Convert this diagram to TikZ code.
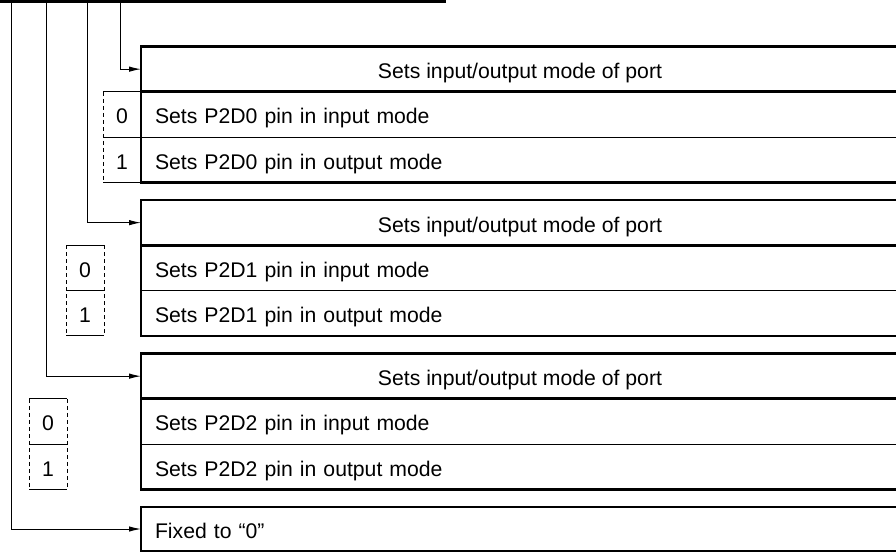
\documentclass[tikz,border=0pt]{standalone}
\usepackage{fontspec}
\setmainfont{Liberation Sans}
\usetikzlibrary{arrows.meta}

\tikzset{
  txt/.style={font=\fontsize{21.2}{25}\selectfont, text height=19pt, text depth=0pt},
  hdrbox/.style={txt, draw, line width=2.7pt, anchor=north west, inner sep=0pt,
    outer sep=0pt, minimum width=758pt, minimum height=45.3pt},
  rowbox/.style={txt, anchor=north west, inner sep=0pt, outer sep=0pt,
    minimum width=758pt, minimum height=45.3pt, text width=730pt, align=left},
  valbox/.style={txt, anchor=east, inner sep=0pt, outer sep=0pt,
    minimum width=38pt, minimum height=45.3pt},
  boxline/.style={line width=2.7pt},
  divline/.style={line width=1.1pt},
  sides/.style={line width=1pt, dash pattern=on 4pt off 3pt},
  wire/.style={line width=1pt, -{Latex[length=12pt,width=5.5pt]}},
}

\begin{document}
\begin{tikzpicture}[x=1pt, y=-1pt]
  \useasboundingbox (0,0) rectangle (896,552);

  % register row (cut off at the top)
  \draw[boxline] (-5,1.2) -- (445,1.2) -- (445,-30);
  \draw[divline] (28,0) -- (28,-30) (66,0) -- (66,-30) (103,0) -- (103,-30)
    (142,0) -- (142,-30) (292,0) -- (292,-30);
  \coordinate (b0) at (11,1);
  \coordinate (b1) at (46,1);
  \coordinate (b2) at (87,1);
  \coordinate (b3) at (120,1);

  % bit 3: P2D0
  \node[hdrbox] (h1) at (141,46.5) {Sets input/output mode of port};
  \node[rowbox] (r10) at (h1.south west) {Sets P2D0 pin in input mode};
  \node[rowbox] (r11) at (r10.south west) {Sets P2D0 pin in output mode};
  \node[valbox] (v10) at (r10.west) {0};
  \node[valbox] (v11) at (r11.west) {1};
  \draw[sides] (v10.north west) -- (v11.south west);
  \draw[divline] (v10.north west) -- (v10.north east) (v10.south west) -- (r10.south east)
    (v11.south west) -- (v11.south east);
  \draw[boxline] (r10.north west) -- (r11.south west) -- (r11.south east);

  % bit 2: P2D1
  \node[hdrbox] (h2) at (141,200) {Sets input/output mode of port};
  \node[rowbox] (r20) at (h2.south west) {Sets P2D1 pin in input mode};
  \node[rowbox] (r21) at (r20.south west) {Sets P2D1 pin in output mode};
  \node[valbox, xshift=-37pt] (v20) at (r20.west) {0};
  \node[valbox, xshift=-37pt] (v21) at (r21.west) {1};
  \draw[sides] (v20.north west) -- (v21.south west) (v20.north east) -- (v21.south east);
  \draw[divline] (v20.north west) -- (v20.north east) (v20.south west) -- (v20.south east)
    (v21.south west) -- (v21.south east) (r20.south west) -- (r20.south east);
  \draw[boxline] (r20.north west) -- (r21.south west) -- (r21.south east);

  % bit 1: P2D2
  \node[hdrbox] (h3) at (141,353.5) {Sets input/output mode of port};
  \node[rowbox] (r30) at (h3.south west) {Sets P2D2 pin in input mode};
  \node[rowbox] (r31) at (r30.south west) {Sets P2D2 pin in output mode};
  \node[valbox, xshift=-74pt] (v30) at (r30.west) {0};
  \node[valbox, xshift=-74pt] (v31) at (r31.west) {1};
  \draw[sides] (v30.north west) -- (v31.south west) (v30.north east) -- (v31.south east);
  \draw[divline] (v30.north west) -- (v30.north east) (v30.south west) -- (v30.south east)
    (v31.south west) -- (v31.south east) (r30.south west) -- (r30.south east);
  \draw[boxline] (r30.north west) -- (r31.south west) -- (r31.south east);

  % bit 0: fixed
  \node[hdrbox, minimum height=44pt, text width=730pt, align=left] (h4) at (141,507)
    {Fixed to ``0''};

  % wires from the register bits
  \draw[wire] (b3) |- (h1.west);
  \draw[wire] (b2) |- (h2.west);
  \draw[wire] (b1) |- (h3.west);
  \draw[wire] (b0) |- (h4.west);
\end{tikzpicture}
\end{document}
